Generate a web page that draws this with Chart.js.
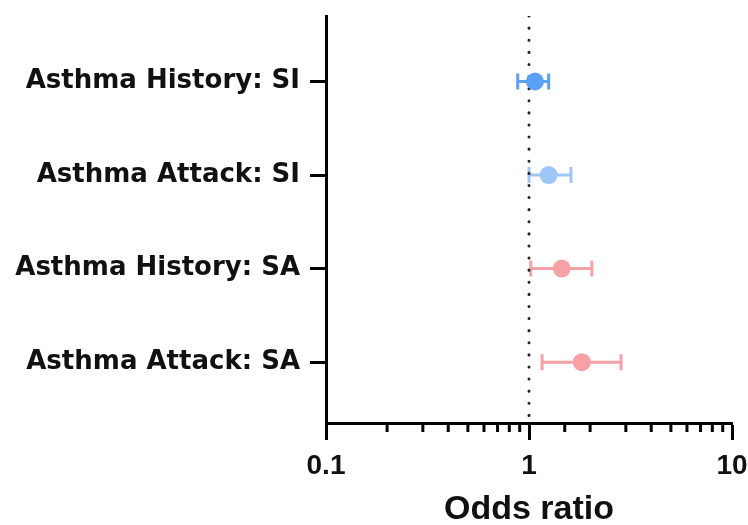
<!DOCTYPE html>
<html>
<head>
<meta charset="utf-8">
<script src="https://cdn.jsdelivr.net/npm/chart.js@4/dist/chart.umd.min.js"></script>
<style>
	html, body { margin: 0; padding: 0; background: #fff; }
	#wrap { width: 748px; height: 525px; }
</style>
</head>
<body>
<div id="wrap"><canvas id="forestChart"></canvas></div>
<script>
// forest plot data
const labels = ['Asthma History: SI', 'Asthma Attack: SI', 'Asthma History: SA', 'Asthma Attack: SA'];
const oddsRatio = [1.07, 1.25, 1.45, 1.82];
const lowerCI = [0.88, 1.00, 1.02, 1.16];
const upperCI = [1.25, 1.61, 2.04, 2.84];
const colors = ['#5aa0f5', '#9fc6f8', '#f7a1a5', '#f7a1a5'];
const xTicksShown = [0.1, 1, 10];

const ctx = document.getElementById('forestChart').getContext('2d');
const font = 'Liberation Sans, Arial, sans-serif';

function isMajor(v)
{
	const l = Math.log10(v);
	return Math.abs(l - Math.round(l)) < 1e-6;
}

// error bars + minor x ticks
const errorBars = {
	id: 'errorBars',
	beforeDatasetsDraw(chart) {
		const c = chart.ctx;
		const xs = chart.scales.x;
		const ys = chart.scales.y;
		c.save();
		c.lineWidth = 3;
		for (let i = 0; i < oddsRatio.length; i++) {
			const y = ys.getPixelForValue(i);
			const x0 = xs.getPixelForValue(lowerCI[i]);
			const x1 = xs.getPixelForValue(upperCI[i]);
			c.strokeStyle = colors[i];
			c.beginPath();
			c.moveTo(x0, y); c.lineTo(x1, y);
			c.moveTo(x0, y - 8); c.lineTo(x0, y + 8);
			c.moveTo(x1, y - 8); c.lineTo(x1, y + 8);
			c.stroke();
		}
		// minor ticks on the log axis
		c.strokeStyle = '#000';
		c.lineWidth = 3;
		c.beginPath();
		xs.ticks.forEach(t => {
			if (isMajor(t.value)) return;
			const x = xs.getPixelForValue(t.value);
			c.moveTo(x, xs.top); c.lineTo(x, xs.top + 9);
		});
		c.stroke();
		c.restore();
	}
};

new Chart(ctx, {
	type: 'scatter',
	data: {
		datasets: [
			{
				label: 'ref',
				data: [{x: 1, y: -0.7}, {x: 1, y: 3.65}],
				showLine: true,
				borderColor: '#222',
				borderWidth: 3,
				borderDash: [0.1, 12],
				borderCapStyle: 'round',
				pointRadius: 0,
				order: 2
			},
			{
				label: 'OR',
				data: oddsRatio.map((v, i) => ({x: v, y: i})),
				pointRadius: 9,
				pointHoverRadius: 9,
				pointBackgroundColor: colors,
				pointBorderColor: colors,
				borderWidth: 0,
				order: 1
			}
		]
	},
	options: {
		responsive: true,
		maintainAspectRatio: false,
		animation: false,
		layout: { padding: { top: 16, right: 16, left: 0, bottom: 0 } },
		plugins: { legend: { display: false }, tooltip: { enabled: false } },
		scales: {
			x: {
				type: 'logarithmic',
				min: 0.1,
				max: 10,
				afterFit: s => { s.height = 102; s.paddingLeft = 0; s.paddingRight = 0; },
				border: { display: true, color: '#000', width: 3 },
				grid: {
					drawOnChartArea: false,
					tickLength: 17,
					tickWidth: 3,
					tickColor: c => (c.tick && isMajor(c.tick.value)) ? '#000' : 'rgba(0,0,0,0)'
				},
				ticks: {
					autoSkip: false,
					maxRotation: 0,
					padding: 9,
					color: '#111',
					font: { family: font, size: 28, weight: 'bold' },
					callback: v => xTicksShown.some(t => Math.abs(t - v) < 1e-9) ? String(v) : ''
				},
				title: {
					display: true,
					text: 'Odds ratio',
					color: '#111',
					padding: { top: 0, bottom: -2 },
					font: { family: font, size: 34, weight: 'bold', lineHeight: 1 }
				}
			},
			y: {
				type: 'linear',
				reverse: true,
				min: -0.7,
				max: 3.65,
				afterFit: s => { s.width = 326; s.paddingTop = 0; s.paddingBottom = 0; },
				afterBuildTicks: s => { s.ticks = labels.map((l, i) => ({value: i})); },
				border: { display: true, color: '#000', width: 3 },
				grid: { drawOnChartArea: false, tickLength: 16, tickWidth: 3, tickColor: '#000' },
				ticks: {
					padding: 10,
					color: '#111',
					font: { family: 'DejaVu Sans, sans-serif', size: 26, weight: 'bold' },
					callback: v => labels[v] || ''
				}
			}
		}
	},
	plugins: [errorBars]
});
</script>
</body>
</html>
